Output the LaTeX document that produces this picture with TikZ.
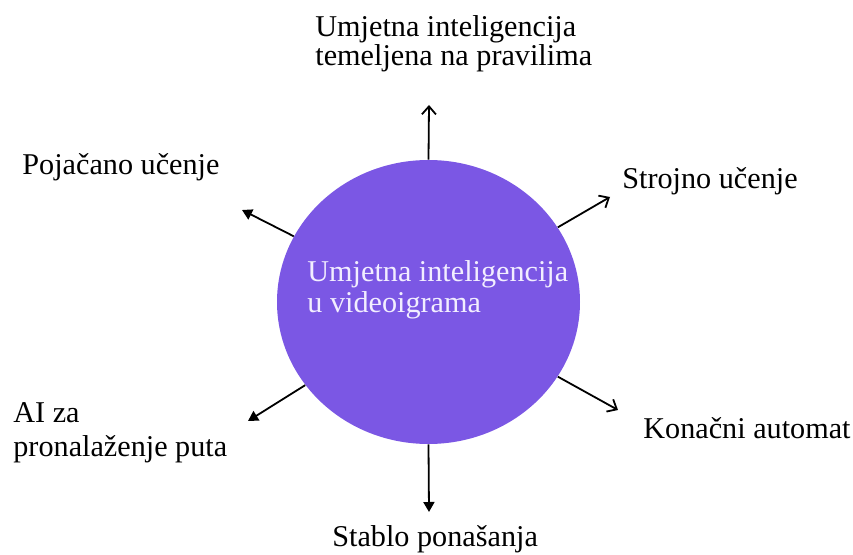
\documentclass[tikz,border=0pt]{standalone}
\usepackage{fontspec}
\setmainfont{Liberation Serif}
\usetikzlibrary{shapes.geometric,arrows.meta}
\definecolor{hubviolet}{RGB}{123,87,228}
\definecolor{hubtext}{RGB}{242,238,255}

\begin{document}
\begin{tikzpicture}[x=0.5pt,y=-0.5pt,
  lbl/.style={anchor=base west,align=left,inner sep=0pt,font=\fontsize{15.1pt}{16pt}\selectfont},
  openarrow/.style={line width=0.9pt,-{Straight Barb[length=4pt,width=7pt]}},
  fullarrow/.style={line width=0.9pt,-{Triangle[length=5pt,width=5.5pt]}}]
  \useasboundingbox (0,0) rectangle (853,555);
  % central circle
  \node[ellipse,fill=hubviolet,minimum width=151.5pt,minimum height=142pt,inner sep=0pt] (hub) at (428.5,302) {};
  \node[lbl,text=hubtext,font=\fontsize{15.1pt}{15.5pt}\selectfont] (hubtxt) at (307,313) {Umjetna inteligencija\\u videoigrama};
  % labels
  \node[lbl,font=\fontsize{15.1pt}{14.5pt}\selectfont] (pravila) at (315,66) {Umjetna inteligencija\\temeljena na pravilima};
  \node[lbl] (strojno) at (622,189) {Strojno učenje};
  \node[lbl] (pojacano) at (22,175) {Pojačano učenje};
  \node[lbl,font=\fontsize{15.1pt}{17pt}\selectfont] (put) at (13,457) {AI za\\pronalaženje puta};
  \node[lbl] (konacni) at (643,439) {Konačni automat};
  \node[lbl] (stablo) at (332,547) {Stablo ponašanja};
  % arrow ends
  \coordinate (tipN) at (429,105);
  \coordinate (tipNE) at (610,197);
  \coordinate (tipNW) at (242,210);
  \coordinate (tipSW) at (248,421);
  \coordinate (tipSE) at (618,410);
  \coordinate (tipS) at (429,512);
  \draw[openarrow] (hub.90) -- (tipN);
  \draw[openarrow] (hub.30) -- (tipNE);
  \draw[fullarrow] (hub.154) -- (tipNW);
  \draw[fullarrow] (hub.214) -- (tipSW);
  \draw[openarrow] (hub.-30) -- (tipSE);
  \draw[fullarrow] (hub.-90) -- (tipS);
\end{tikzpicture}
\end{document}
